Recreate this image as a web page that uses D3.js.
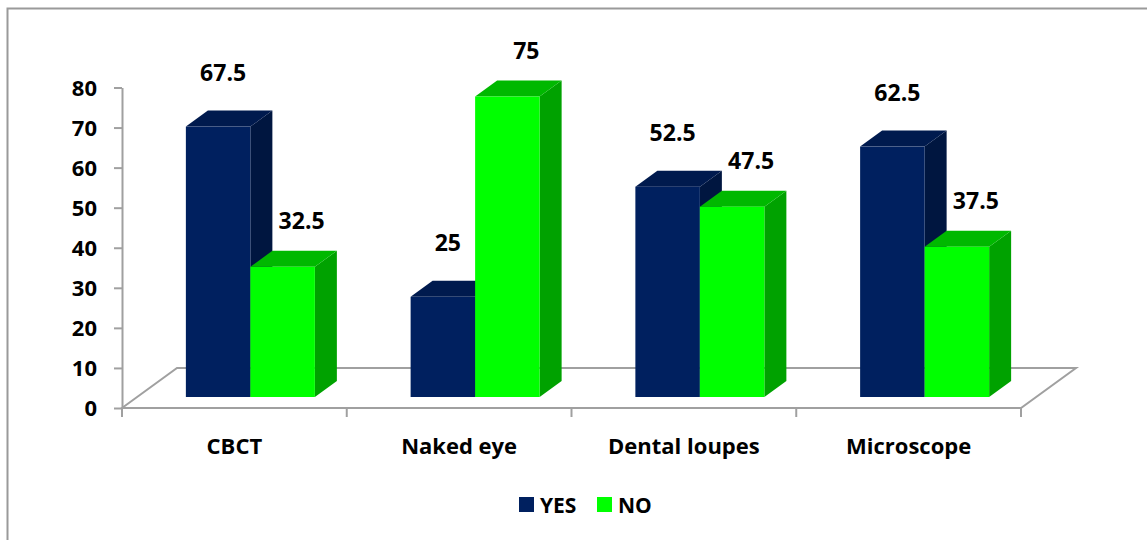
<!DOCTYPE html>
<html>
<head>
<meta charset="utf-8">
<script src="https://cdn.jsdelivr.net/npm/d3@7"></script>
<style>
  html, body { margin: 0; padding: 0; background: #ffffff; }
  svg { display: block; }
  text { font-family: "Open Sans", "Noto Sans", sans-serif; font-weight: bold; fill: #000; }
</style>
</head>
<body>
<svg id="chart" width="1147" height="540"></svg>
<script>
const categories = ["CBCT", "Naked eye", "Dental loupes", "Microscope"];
const seriesNames = ["YES", "NO"];
const yesValues = [67.5, 25, 52.5, 62.5];
const noValues = [32.5, 75, 47.5, 37.5];
const yTicks = [0, 10, 20, 30, 40, 50, 60, 70, 80];

const W = 1147, H = 540;
const svg = d3.select("#chart");

// outer frame
svg.append("rect").attr("x", 7.5).attr("y", 8.5).attr("width", 1300).attr("height", 700)
  .attr("fill", "none").attr("stroke", "#9a9a9a").attr("stroke-width", 2);

const x0 = d3.scaleBand().domain(categories).range([122, 1021]).padding(0);
const y = d3.scaleLinear().domain([0, 80]).range([408, 87.5]);

// 3D geometry
const floorDX = 55, floorDY = -40;
const barOffX = 16, barOffY = -11;   // bar front face shift into depth
const barDX = 22, barDY = -16;       // bar depth
const groupFrac = 0.574;
const bw = x0.bandwidth();
const groupW = bw * groupFrac;
const x1 = d3.scaleBand().domain(seriesNames).range([0, groupW]).padding(0);

const colors = {
  YES: { front: "#00205f", top: "#001a4e", side: "#001640" },
  NO:  { front: "#00ff00", top: "#00b800", side: "#00a200" }
};
const labelOff = { YES: { dx: 5, dy: 55 }, NO: { dx: 19, dy: 47 } };

const gridColor = "#a0a0a0";
const y0 = y(0), xL = x0.range()[0], xR = x0.range()[1];

// floor outline
const floor = svg.append("g");
floor.append("path")
  .attr("d", `M${xL},${y0} L${xL + floorDX},${y0 + floorDY} L${xR + floorDX},${y0 + floorDY} L${xR},${y0} Z`)
  .attr("fill", "#ffffff").attr("stroke", gridColor).attr("stroke-width", 2).attr("stroke-linejoin", "miter");

// y axis
const yAxis = d3.axisLeft(y).tickValues(yTicks).tickSize(8).tickSizeOuter(0).tickPadding(17);
const gy = svg.append("g").attr("transform", `translate(${xL},0)`).call(yAxis);
gy.select(".domain").attr("stroke", gridColor).attr("stroke-width", 2);
gy.selectAll(".tick line").attr("stroke", gridColor).attr("stroke-width", 2);
gy.selectAll(".tick text").attr("font-size", 22).attr("font-family", null).attr("fill", "#000").attr("dy", "0.36em");

// category ticks at band boundaries
const boundaries = categories.map(c => x0(c)).concat([xR]);
svg.append("g").selectAll("line").data(boundaries).join("line")
  .attr("x1", d => d).attr("x2", d => d).attr("y1", y0).attr("y2", y0 + 9)
  .attr("stroke", gridColor).attr("stroke-width", 2);

// category labels
svg.append("g").selectAll("text").data(categories).join("text")
  .attr("x", d => x0(d) + bw / 2).attr("y", 445)
  .attr("text-anchor", "middle").attr("dominant-baseline", "central")
  .attr("font-size", 22).text(d => d);

// bars
const rows = [];
categories.forEach((c, i) => {
  rows.push({ cat: c, s: "YES", v: yesValues[i] });
  rows.push({ cat: c, s: "NO", v: noValues[i] });
});

const bars = svg.append("g");
rows.forEach(r => {
  const x = x0(r.cat) + (bw - groupW) / 2 + x1(r.s) + barOffX;
  const w = x1.bandwidth();
  const top = y(r.v) + barOffY;
  const bottom = y(0) + barOffY;
  const col = colors[r.s];
  const g = bars.append("g");
  g.append("polygon")
    .attr("points", [[x + w, top], [x + w + barDX, top + barDY], [x + w + barDX, bottom + barDY], [x + w, bottom]].map(p => p.join(",")).join(" "))
    .attr("fill", col.side);
  g.append("polygon")
    .attr("points", [[x, top], [x + w, top], [x + w + barDX, top + barDY], [x + barDX, top + barDY]].map(p => p.join(",")).join(" "))
    .attr("fill", col.top);
  g.append("rect").attr("x", x).attr("y", top).attr("width", w).attr("height", bottom - top)
    .attr("fill", col.front);
  r.lx = x + w / 2 + labelOff[r.s].dx;
  r.ly = top - labelOff[r.s].dy;
});

// value labels
svg.append("g").selectAll("text").data(rows).join("text")
  .attr("x", d => d.lx).attr("y", d => d.ly)
  .attr("text-anchor", "middle").attr("dominant-baseline", "central")
  .attr("font-size", 23).text(d => d.v);

// legend
const legend = svg.append("g");
const legItems = [{ s: "YES", x: 519 }, { s: "NO", x: 597 }];
legItems.forEach(li => {
  legend.append("rect").attr("x", li.x).attr("y", 497).attr("width", 15).attr("height", 15)
    .attr("fill", colors[li.s].front);
  legend.append("text").attr("x", li.x + 21).attr("y", 505).attr("dominant-baseline", "central")
    .attr("font-size", 21).text(li.s);
});
</script>
</body>
</html>
